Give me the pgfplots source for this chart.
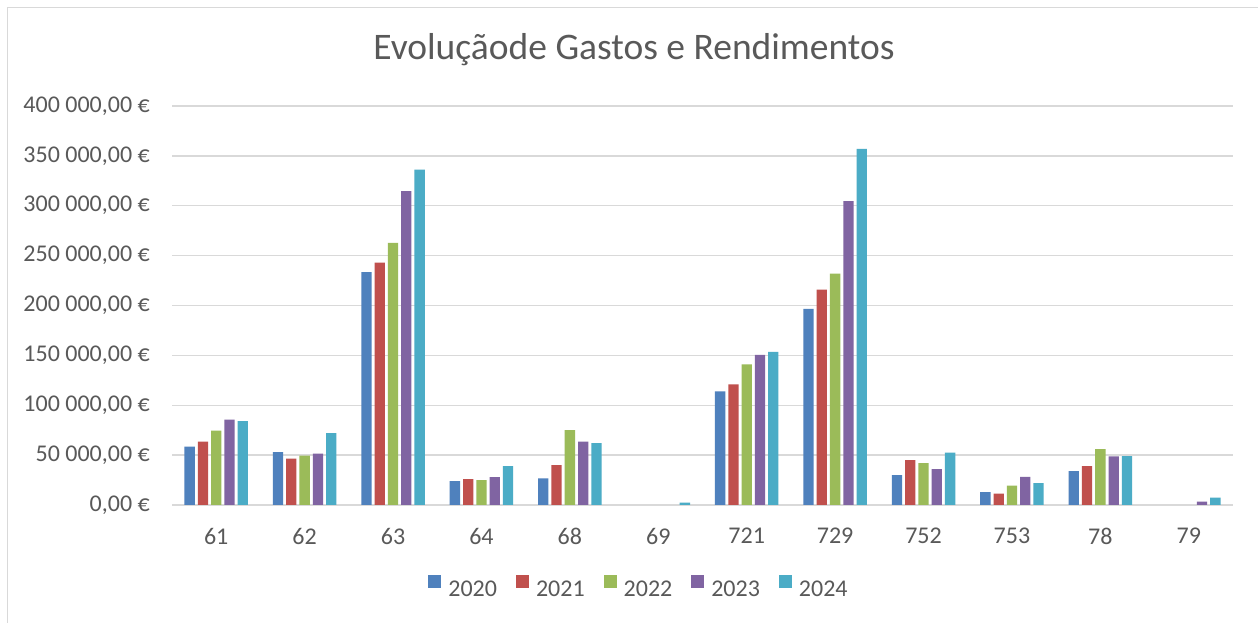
\documentclass[border=0pt]{standalone}
\usepackage{fontspec}
\setmainfont{Carlito}
\usepackage{pgfplots}
\usepackage{pgfplotstable}
\pgfplotsset{compat=1.18}
\definecolor{c1}{HTML}{4F81BD}
\definecolor{c2}{HTML}{C0504D}
\definecolor{c3}{HTML}{9BBB59}
\definecolor{c4}{HTML}{8064A2}
\definecolor{c5}{HTML}{4BACC6}
\definecolor{txt}{HTML}{595959}
\definecolor{grd}{HTML}{D9D9D9}
\pgfplotstableread{
x y2020 y2021 y2022 y2023 y2024
0 58500 63500 74500 85500 84000
1 53000 46500 49500 51500 72000
2 233500 243000 262700 314700 336300
3 24000 26000 25000 28000 39000
4 26700 40000 75000 63500 62000
5 nan nan nan nan 2500
6 114000 121000 141000 150500 153500
7 196700 216000 232000 304700 357000
8 30000 45000 42000 36000 52500
9 13000 11500 19300 28300 22000
10 34000 39000 56000 48700 49000
11 nan nan nan 3500 7500
}\datatable
\begin{document}
\begin{tikzpicture}
\path[use as bounding box] (0pt,0pt) rectangle (1258pt,623pt);
\fill[white] (0pt,0pt) rectangle (1258pt,623pt);
\draw[grd, line width=1.5pt] (7.5pt,0pt) -- (7.5pt,615.5pt) -- (1258pt,615.5pt);
\node[anchor=base, font=\fontsize{37.5}{44}\selectfont, text=txt] at (634pt,563pt) {Evoluçãode Gastos e Rendimentos};
\begin{axis}[
  at={(172pt,118pt)}, anchor=south west,
  width=1061pt, height=399pt, scale only axis,
  xmin=-0.5, xmax=11.5, ymin=0, ymax=400000,
  scaled y ticks=false,
  ybar=3pt, bar width=10.3pt,
  xtick={0,...,11},
  xticklabels={61,62,63,64,68,69,721,729,752,753,78,79},
  ytick={0,50000,...,400000},
  yticklabels={{0,00 €},{50 000,00 €},{100 000,00 €},{150 000,00 €},{200 000,00 €},{250 000,00 €},{300 000,00 €},{350 000,00 €},{400 000,00 €}},
  major tick length=0pt,
  ymajorgrids, grid style={grd, line width=1.3pt},
  axis line style={draw=none},
  tick label style={font=\fontsize{24}{28}\selectfont, text=txt},
  yticklabel style={anchor=east, inner sep=0pt},
  yticklabel shift=22pt,
  xticklabel style={anchor=north, inner sep=0pt},
  xticklabel shift=23pt,
  unbounded coords=discard,
  legend columns=5,
  legend image code/.code={\fill[#1,draw=none] (0pt,1.1pt) rectangle (13pt,14.1pt);},
  legend style={draw=none, fill=none, at={(0.4425,-0.2105)}, anchor=center,
    font=\fontsize{24}{28}\selectfont, text=txt,
    nodes={inner sep=7pt},
    /tikz/every even column/.append style={column sep=12pt}},
]
\addplot[fill=c1, draw=none] table[x=x, y=y2020] {\datatable};
\addplot[fill=c2, draw=none] table[x=x, y=y2021] {\datatable};
\addplot[fill=c3, draw=none] table[x=x, y=y2022] {\datatable};
\addplot[fill=c4, draw=none] table[x=x, y=y2023] {\datatable};
\addplot[fill=c5, draw=none] table[x=x, y=y2024] {\datatable};
\legend{2020,2021,2022,2023,2024}
\end{axis}
\end{tikzpicture}
\end{document}
